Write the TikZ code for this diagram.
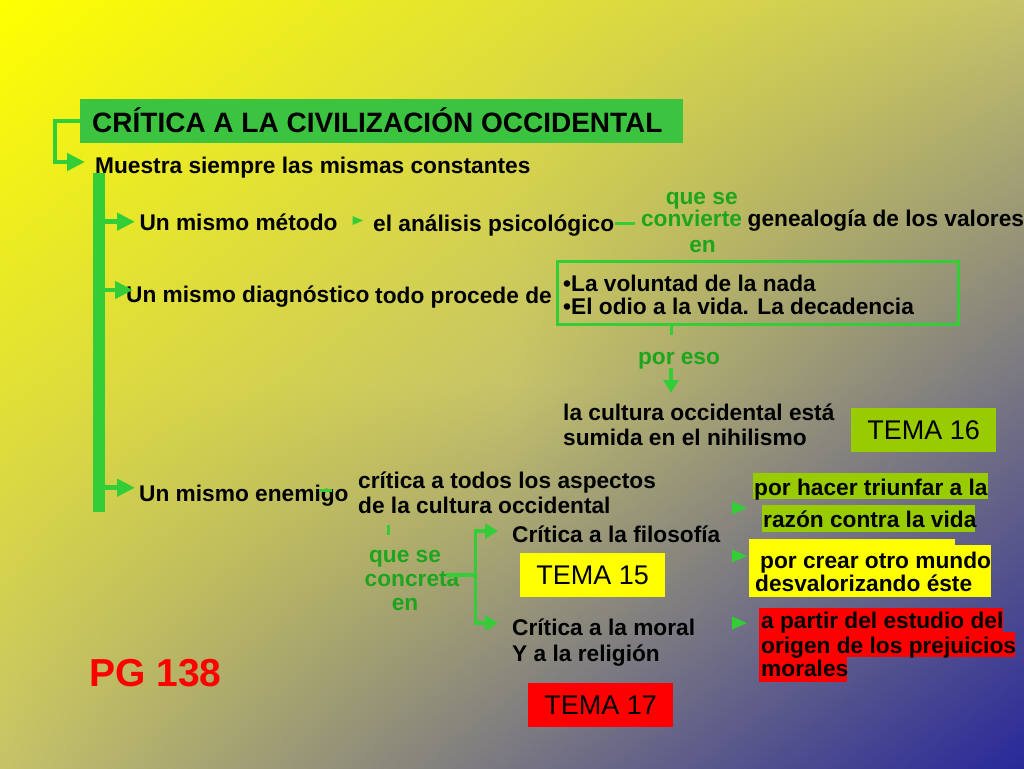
\documentclass[tikz,border=0pt]{standalone}
\usepackage{fontspec}
\setmainfont{Liberation Sans}
\usetikzlibrary{arrows.meta,shadings}
\definecolor{bgA}{RGB}{255,255,0}
\definecolor{bgB}{RGB}{226,225,52}
\definecolor{bgC}{RGB}{198,195,105}
\definecolor{bgD}{RGB}{119,117,130}
\definecolor{bgE}{RGB}{40,40,155}
\definecolor{gfill}{RGB}{60,196,64}
\definecolor{gline}{RGB}{50,205,55}
\definecolor{gtext}{RGB}{30,165,30}
\definecolor{tgreen}{RGB}{153,204,0}
\definecolor{tyellow}{RGB}{255,255,0}
\definecolor{tred}{RGB}{255,0,0}
\begin{document}
\begin{tikzpicture}[x=1pt,y=-1pt,
  txt/.style={anchor=base west, inner sep=0pt, font=\fontsize{22.7}{26}\selectfont\bfseries},
  gtxt/.style={anchor=base, inner sep=0pt, text=gtext, font=\fontsize{22.7}{26}\selectfont\bfseries},
  tema/.style={anchor=north west, inner sep=0pt, minimum width=145pt, minimum height=44pt, font=\fontsize{27}{30}\selectfont},
  garrow/.style={draw=gline, line width=4.5pt, -{Triangle[length=18pt,width=17pt]}},
  garrowS/.style={draw=gline, line width=3.5pt, -{Triangle[length=13pt,width=15pt]}},
  gseg/.style={draw=gline, line width=3pt},
  spine/.style={draw=gline, line width=12pt},
]
\useasboundingbox (0,0) rectangle (1024,768);
% background
\shade[upper left=bgA, upper right=bgB, lower left=bgB, lower right=bgC] (0,0) rectangle (513,385);
\shade[upper left=bgB, upper right=bgC, lower left=bgC, lower right=bgD] (511,0) rectangle (1024,385);
\shade[upper left=bgB, upper right=bgC, lower left=bgC, lower right=bgD] (0,383) rectangle (513,768);
\shade[upper left=bgC, upper right=bgD, lower left=bgD, lower right=bgE] (511,383) rectangle (1024,768);

% title
\node[fill=gfill, anchor=north west, minimum width=603pt, minimum height=44pt, inner sep=0pt] (title) at (80,99) {};
\node[txt, font=\fontsize{28}{30}\selectfont\bfseries] (titletxt) at (92,132.5) {CRÍTICA A LA CIVILIZACIÓN OCCIDENTAL};
\node[txt] (muestra) at (95,173) {Muestra siempre las mismas constantes};

% highlight backgrounds
\fill[tgreen] (753,473) rectangle (988,499);
\fill[tgreen] (761.5,505) rectangle (975,531.5);
\fill[tyellow] (749,539) rectangle (955,547);
\fill[tyellow] (749,545) rectangle (991,597);
\fill[tred] (759,608) rectangle (1003,633);
\fill[tred] (759,632) rectangle (1015,657);
\fill[tred] (759,656) rectangle (847,682);

% boxes
\node[draw=gline, line width=3pt, anchor=north west, minimum width=401pt, minimum height=63pt, inner sep=0pt] (causa) at (556,260) {};
\node[tema, fill=tgreen] (t16) at (851,408) {TEMA 16};
\node[tema, fill=tyellow] (t15) at (520,553) {TEMA 15};
\node[tema, fill=tred] (t17) at (528,683) {TEMA 17};

% texts
\node[txt] (metodo) at (139.3,230) {Un mismo método};
\node[txt] (analisis) at (373,231.5) {el análisis psicológico};
\node[gtxt] (conv1) at (701.7,204) {que se};
\node[gtxt] (conv2) at (691.5,226) {convierte};
\node[gtxt] (conv3) at (702.5,252) {en};
\node[txt] (genea) at (747.5,226) {genealogía de los valores};
\node[txt] (diag) at (126,302.5) {Un mismo diagnóstico};
\node[txt] (procede) at (375,303) {todo procede de};
\node[txt] (vol) at (563,291.5) {•La voluntad de la nada};
\node[txt] (odio) at (563,314) {•El odio a la vida. La decadencia};
\node[gtxt] (poreso) at (679,364) {por eso};
\node[txt] (cult1) at (563,420) {la cultura occidental está};
\node[txt] (cult2) at (563,445.5) {sumida en el nihilismo};
\node[txt] (enemigo) at (139,501.5) {Un mismo enemigo};
\node[txt] (crit1) at (358,488) {crítica a todos los aspectos};
\node[txt] (crit2) at (358,513) {de la cultura occidental};
\node[gtxt] (conc1) at (405,562) {que se};
\node[gtxt] (conc2) at (412,586) {concreta};
\node[gtxt] (conc3) at (405,610) {en};
\node[txt] (filo) at (512,542.5) {Crítica a la filosofía};
\node[txt] (moral1) at (512,635) {Crítica a la moral};
\node[txt] (moral2) at (512,661.5) {Y a la religión};
\node[txt] (r1) at (754,495) {por hacer triunfar a la};
\node[txt] (r2) at (763,527) {razón contra la vida};
\node[txt] (r3) at (760,568) {por crear otro mundo};
\node[txt] (r4) at (755,591) {desvalorizando éste};
\node[txt] (r5) at (761,628) {a partir del estudio del};
\node[txt] (r6) at (761,653) {origen de los prejuicios};
\node[txt] (r7) at (761,676) {morales};
\node[txt, text=tred, font=\fontsize{39}{40}\selectfont\bfseries] (pg) at (89,686) {PG 138};

% connectors
\coordinate (mtip) at (85,162);
\draw[garrow] (title.west) -- ++(-25,0) |- (mtip);
\coordinate (sTop) at (99,173);
\coordinate (sBot) at (99,512);
\draw[spine] (sTop) -- (sBot);
\coordinate (t1) at (135,221.7);
\coordinate (t2) at (133,290);
\coordinate (t3) at (135,487.7);
\draw[garrow] (sTop |- t1) -- (t1);
\draw[garrow] (sTop |- t2) -- (t2);
\draw[garrow] (sTop |- t3) -- (t3);
\coordinate (d1) at (615,223.5);
\coordinate (d2) at (635,223.5);
\draw[gseg] (d1) -- (d2);
\coordinate (k1) at (671,323);
\coordinate (k2) at (671,335);
\draw[gseg] (k1) -- (k2);
\coordinate (pe1) at (671,368);
\coordinate (pe2) at (671,393);
\draw[garrowS] (pe1) -- (pe2);
\coordinate (e1) at (320,490);
\coordinate (e2) at (332,490);
\draw[gseg] (e1) -- (e2);
\coordinate (q1) at (388,525);
\coordinate (q2) at (388,535);
\draw[gseg] (q1) -- (q2);
\coordinate (cq) at (446,575);
\coordinate (fork) at (475.7,575);
\coordinate (tipF) at (498,531);
\coordinate (tipM) at (498,623);
\draw[draw=gline, line width=3.5pt] (cq) -- (fork);
\draw[garrowS] (fork) |- (tipF);
\draw[garrowS] (fork) |- (tipM);

% small tips
\fill[gline] (352.5,216) -- (363,220.5) -- (352.5,225) -- cycle;
\fill[gline] (732,501.5) -- (747,508) -- (732,514.5) -- cycle;
\fill[gline] (732,549.5) -- (747,556) -- (732,562.5) -- cycle;
\fill[gline] (732,616.5) -- (747,623) -- (732,629.5) -- cycle;
\end{tikzpicture}
\end{document}
